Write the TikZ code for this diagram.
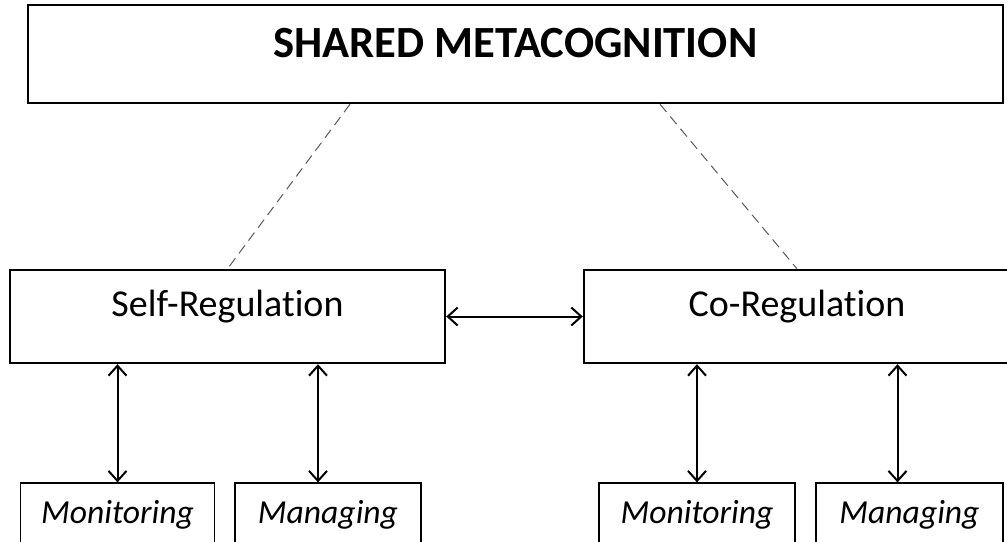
\documentclass[tikz,border=0pt]{standalone}
\usepackage{fontspec}
\setmainfont[Ligatures = NoCommon]{Carlito}
\usetikzlibrary{arrows.meta}
\usetikzlibrary{positioning}
\tikzset{bigbox/.style = {draw, line width = 1.2pt, inner sep = 0, anchor = center}}
\tikzset{smallbox/.style = {draw, line width = 0.6pt, inner sep = 0, anchor = center,
    minimum width = 97pt, text height = 20pt, text depth = 18.5pt, font = \fontsize{16.8}{18}\selectfont\itshape}}
\tikzset{link/.style = {line width = 1pt, {Straight Barb[length=5pt,width=9pt]}-{Straight Barb[length=5pt,width=9pt]}}}
\tikzset{dashlink/.style = {dash pattern = on 5pt off 3pt, gray!70!black, line width = 0.5pt}}

\begin{document}
\begin{tikzpicture}[x=0.5pt, y=-0.5pt]
    \useasboundingbox (0, 0) rectangle (1007, 541);
    \clip (0, 0) rectangle (1007, 541);

    % top level
    \node [bigbox, minimum width = 487.5pt, text height = 26pt, text depth = 23pt,
      font = \fontsize{22.3}{24}\selectfont\bfseries] (shared) at (515.5, 54) {SHARED METACOGNITION};

    % two kinds of regulation
    \node [bigbox, minimum width = 217.5pt, text height = 23pt, text depth = 23.5pt,
      font = \fontsize{19}{24}\selectfont] (selfreg) at (227.5, 316.5) {Self-Regulation};
    \node [bigbox, minimum width = 213pt, text height = 23pt, text depth = 23.5pt,
      font = \fontsize{19}{24}\selectfont] (coreg) at (797, 316.5) {Co-Regulation};

    \draw [dashlink] ([xshift = -82.75pt]shared.south) -- (selfreg.north);
    \draw [dashlink] ([xshift = 72.25pt]shared.south) -- (coreg.north);
    \draw [link] (selfreg.east) -- (coreg.west);

    % monitoring and managing
    \node [smallbox] (selfmon) at (117.5, 521.5) {Monitoring};
    \node [smallbox, minimum width = 93pt] (selfman) at (328, 521.5) {Managing};
    \node [smallbox, minimum width = 98pt] (comon) at (697, 521.5) {Monitoring};
    \node [smallbox, minimum width = 93.5pt] (coman) at (909.5, 521.5) {Managing};

    \draw [link] (selfreg.south -| selfmon.north) -- (selfmon.north);
    \draw [link] ([xshift = -5pt]selfreg.south -| selfman.north) -- ([xshift = -5pt]selfman.north);
    \draw [link] (coreg.south -| comon.north) -- (comon.north);
    \draw [link] ([xshift = -6pt]coreg.south -| coman.north) -- ([xshift = -6pt]coman.north);
\end{tikzpicture}
\end{document}
